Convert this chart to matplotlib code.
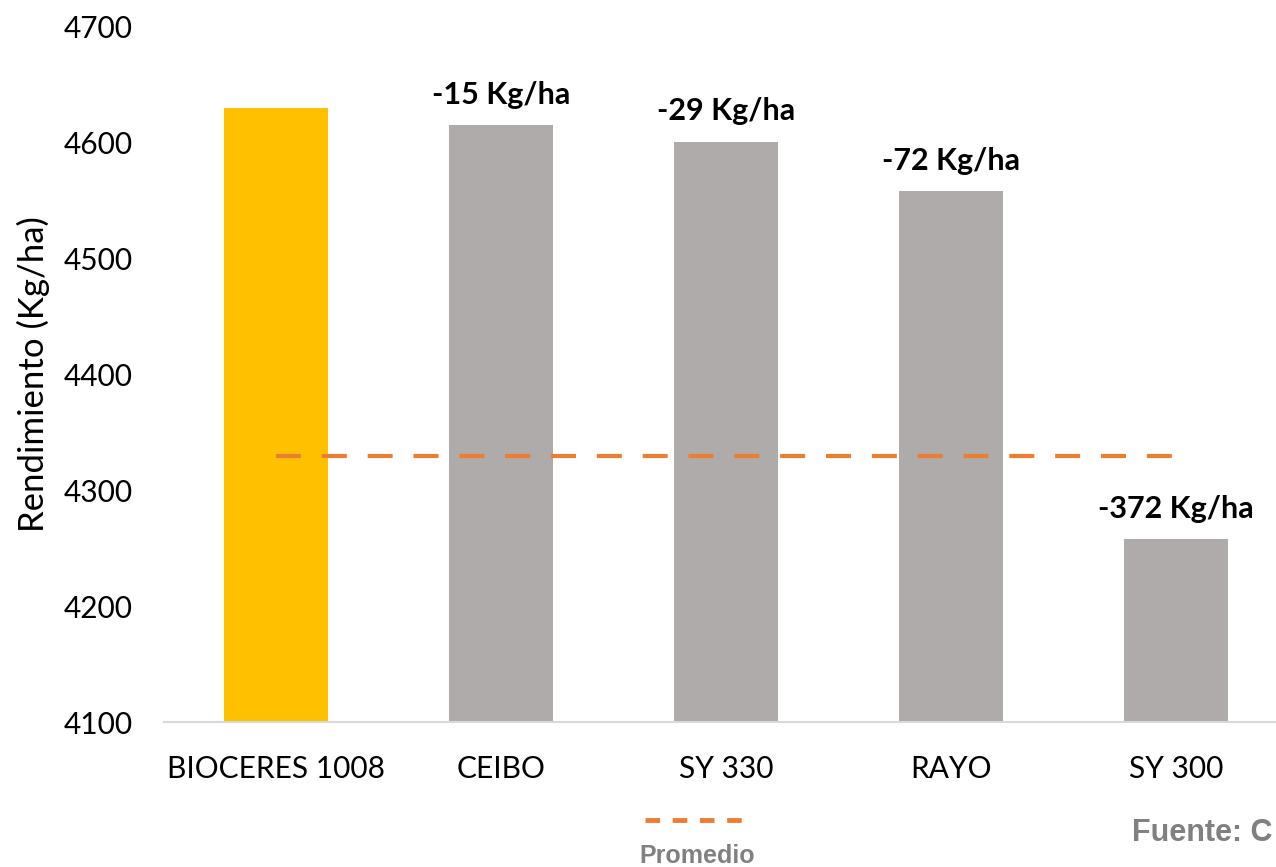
import matplotlib.pyplot as plt
from matplotlib.lines import Line2D

# Data
hibridos = ['BIOCERES 1008', 'CEIBO', 'SY 330', 'RAYO', 'SY 300']
rendimiento = [4630, 4615, 4601, 4558, 4258]
diferencias = ['', '-15 Kg/ha', '-29 Kg/ha', '-72 Kg/ha', '-372 Kg/ha']
promedio = [4330, 4330, 4330, 4330, 4330]
colores = ['#FFC000', '#AFABAB', '#AFABAB', '#AFABAB', '#AFABAB']

plt.rcParams['font.family'] = ['Lato', 'DejaVu Sans']

fig = plt.figure(figsize=(12.76, 8.67), dpi=100)
ax = fig.add_axes([163.5 / 1276, 145 / 867, 1125 / 1276, 695 / 867])

x = range(len(hibridos))
ax.bar(x, rendimiento, width=0.46, color=colores, zorder=2)
ax.plot(x, promedio, color='#ED7D31', linewidth=3, dashes=(6, 5), zorder=3)

for i, txt in enumerate(diferencias):
    if txt:
        ax.text(i, rendimiento[i] + 14, txt, ha='center', va='bottom',
                fontsize=22, fontweight='bold', color='black')

ax.set_xlim(-0.5, 4.5)
ax.set_ylim(4100, 4700)
ax.set_yticks(range(4100, 4701, 100))
ax.set_xticks(list(x))
ax.set_xticklabels(hibridos)
ax.tick_params(axis='both', length=0, labelsize=21.5, colors='black')
ax.tick_params(axis='x', pad=24)
ax.tick_params(axis='y', pad=22)

for s in ['top', 'right', 'left']:
    ax.spines[s].set_visible(False)
ax.spines['bottom'].set_color('#D9D9D9')
ax.spines['bottom'].set_linewidth(1.5)

fig.text(33 / 1276, 0.5 * (695 / 867) + 145 / 867, 'Rendimiento (Kg/ha)', rotation=90,
         ha='center', va='center', fontsize=25, color='black')

# legend-like annotation at the bottom
leg_line = Line2D([645 / 1276, 745 / 1276], [47 / 867, 47 / 867], transform=fig.transFigure,
                  color='#ED7D31', linewidth=3.5, dashes=(3, 2.6))
fig.add_artist(leg_line)
fig.text(697 / 1276, 11 / 867, 'Promedio', ha='center', va='center',
         fontsize=18, fontweight='bold', color='#808080', family='Liberation Sans')
fig.text(1132 / 1276, 34 / 867, 'Fuente: C', ha='left', va='center',
         fontsize=22, fontweight='bold', color='#808080', family='Liberation Sans')

fig.savefig('out.png', dpi=100)
